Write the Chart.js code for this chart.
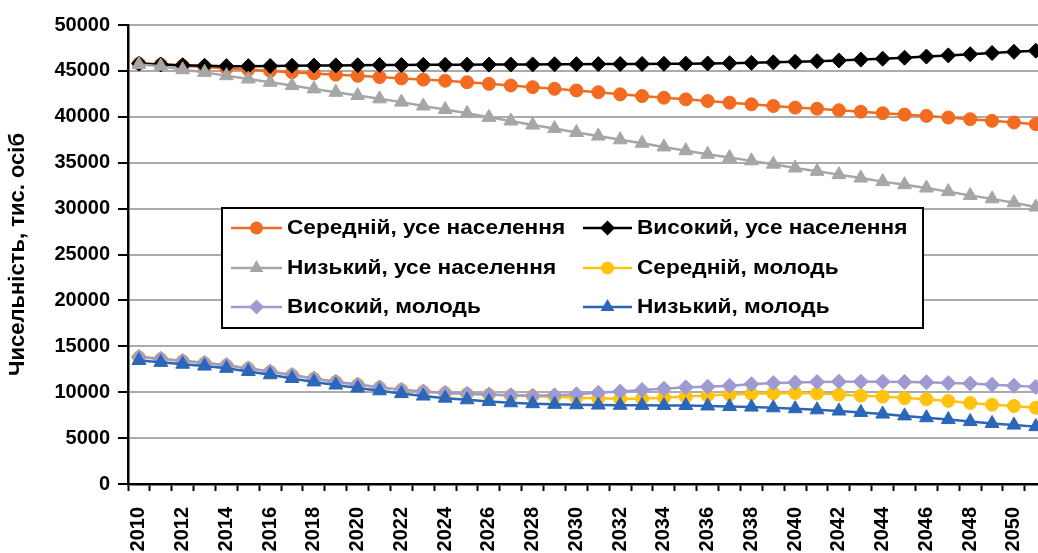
<!DOCTYPE html>
<html>
<head>
<meta charset="utf-8">
<script src="https://cdn.jsdelivr.net/npm/chart.js@4.4.0/dist/chart.umd.min.js"></script>
<style>
  html, body { margin: 0; padding: 0; background: #fff; overflow: hidden; }
  #wrap { position: absolute; left: 0; top: 0; width: 1076px; height: 553px; }
</style>
</head>
<body>
<div id="wrap"><canvas id="popChart" width="1076" height="553"></canvas></div>
<script>
// Years on the x axis
const years = ['2010', '2011', '2012', '2013', '2014', '2015', '2016', '2017', '2018', '2019',
    '2020', '2021', '2022', '2023', '2024', '2025', '2026', '2027', '2028', '2029',
    '2030', '2031', '2032', '2033', '2034', '2035', '2036', '2037', '2038', '2039',
    '2040', '2041', '2042', '2043', '2044', '2045', '2046', '2047', '2048', '2049',
    '2050', '2051'];

// Whole population, thousands
const midAll = [45800, 45700, 45560, 45420, 45280, 45140, 45000, 44860, 44720, 44590,
    44460, 44330, 44180, 44050, 43930, 43760, 43590, 43410, 43230, 43050,
    42870, 42680, 42450, 42260, 42080, 41900, 41720, 41540, 41360, 41180,
    41000, 40880, 40710, 40560, 40390, 40240, 40100, 39920, 39740, 39560,
    39380, 39200];
const highAll = [45800, 45700, 45620, 45560, 45520, 45520, 45540, 45560, 45580, 45600,
    45620, 45640, 45650, 45660, 45670, 45680, 45690, 45700, 45710, 45720,
    45730, 45740, 45750, 45760, 45770, 45790, 45810, 45840, 45880, 45930,
    45990, 46060, 46140, 46230, 46330, 46440, 46560, 46690, 46820, 46950,
    47080, 47200];
const lowAll = [45700, 45520, 45130, 44840, 44480, 44120, 43760, 43400, 43040, 42670,
    42320, 41960, 41600, 41180, 40800, 40380, 39940, 39540, 39100, 38720,
    38290, 37900, 37490, 37120, 36720, 36310, 35920, 35560, 35200, 34840,
    34420, 34060, 33700, 33330, 32940, 32600, 32240, 31850, 31430, 31060,
    30630, 30170];

// Youth, thousands
const midYouth = [13800, 13600, 13380, 13170, 12920, 12580, 12220, 11850, 11480, 11120,
    10800, 10500, 10250, 10050, 9900, 9800, 9710, 9630, 9570, 9500,
    9400, 9330, 9290, 9300, 9400, 9520, 9650, 9750, 9830, 9890,
    9920, 9860, 9740, 9620, 9520, 9360, 9230, 9050, 8830, 8640,
    8500, 8300];
const highYouth = [13850, 13650, 13420, 13200, 12950, 12600, 12250, 11880, 11500, 11150,
    10830, 10530, 10280, 10080, 9930, 9830, 9740, 9670, 9620, 9660,
    9780, 9950, 10080, 10250, 10380, 10530, 10600, 10700, 10870, 11000,
    11050, 11120, 11150, 11150, 11150, 11120, 11080, 11000, 10950, 10820,
    10700, 10580];
const lowYouth = [13450, 13250, 13050, 12850, 12600, 12250, 11900, 11500, 11120, 10780,
    10450, 10150, 9850, 9580, 9350, 9170, 9000, 8850, 8750, 8680,
    8630, 8600, 8580, 8570, 8560, 8550, 8500, 8440, 8380, 8300,
    8200, 8080, 7950, 7800, 7620, 7420, 7220, 7020, 6800, 6600,
    6420, 6250];

const seriesNames = ['Середній, усе населення', 'Високий, усе населення', 'Низький, усе населення',
    'Середній, молодь', 'Високий, молодь', 'Низький, молодь'];

const FONT = '"Liberation Sans", Arial, sans-serif';

function makeSeries(label, data, color, style, radius, order) {
    return {
        label: label,
        data: data,
        borderColor: color,
        backgroundColor: color,
        borderWidth: 2.5,
        pointStyle: style,
        pointRadius: radius,
        pointBorderWidth: 1,
        pointBackgroundColor: color,
        pointBorderColor: color,
        tension: 0,
        order: order
    };
}

// Draw a legend marker like the chart's points
function drawMarker(ctx, style, r, x, y, color) {
    ctx.fillStyle = color;
    ctx.beginPath();
    if (style === 'circle') {
        ctx.arc(x, y, r, 0, Math.PI * 2);
    } else if (style === 'rectRot') {
        ctx.moveTo(x - r, y);
        ctx.lineTo(x, y - r);
        ctx.lineTo(x + r, y);
        ctx.lineTo(x, y + r);
        ctx.closePath();
    } else {
        ctx.moveTo(x, y - r);
        ctx.lineTo(x + r * 0.866, y + r * 0.5);
        ctx.lineTo(x - r * 0.866, y + r * 0.5);
        ctx.closePath();
    }
    ctx.fill();
}

// Boxed legend sitting inside the plot area
const boxLegend = {
    id: 'boxLegend',
    afterDraw(chart) {
        const ctx = chart.ctx;
        const rows = [228, 268, 307];
        const cols = [{ from: 231, to: 282, text: 287 }, { from: 583, to: 632, text: 637 }];
        ctx.save();
        ctx.fillStyle = '#fff';
        ctx.fillRect(222, 208, 701, 120);
        ctx.strokeStyle = '#000';
        ctx.lineWidth = 2;
        ctx.strokeRect(222, 208, 701, 120);

        chart.data.datasets.forEach((ds, i) => {
            const col = cols[i % 2];
            const y = rows[Math.floor(i / 2)];
            ctx.strokeStyle = ds.borderColor;
            ctx.lineWidth = 2.5;
            ctx.beginPath();
            ctx.moveTo(col.from, y);
            ctx.lineTo(col.to, y);
            ctx.stroke();
            drawMarker(ctx, ds.pointStyle, ds.pointRadius, (col.from + col.to) / 2, y, ds.borderColor);

            ctx.save();
            ctx.translate(col.text, y + 1);
            ctx.scale(1.16, 1);
            ctx.fillStyle = '#000';
            ctx.font = 'bold 19.5px ' + FONT;
            ctx.textBaseline = 'middle';
            ctx.fillText(ds.label, 0, 0);
            ctx.restore();
        });
        ctx.restore();
    }
};

const ctx = document.getElementById('popChart');

new Chart(ctx, {
    type: 'line',
    data: {
        labels: years,
        datasets: [
            makeSeries(seriesNames[0], midAll, '#F26B21', 'circle', 6.5, 5),
            makeSeries(seriesNames[1], highAll, '#000000', 'rectRot', 7.5, 4),
            makeSeries(seriesNames[2], lowAll, '#A6A6A6', 'triangle', 8, 3),
            makeSeries(seriesNames[3], midYouth, '#FFC20E', 'circle', 6.5, 2),
            makeSeries(seriesNames[4], highYouth, '#9D9BD0', 'rectRot', 7.5, 1),
            makeSeries(seriesNames[5], lowYouth, '#2B66B8', 'triangle', 8, 0)
        ]
    },
    options: {
        responsive: false,
        animation: false,
        devicePixelRatio: 1,
        layout: { padding: { top: 25, right: 16, bottom: 0, left: 0 } },
        plugins: {
            legend: { display: false },
            tooltip: { enabled: false }
        },
        scales: {
            x: {
                offset: true,
                grid: {
                    offset: true,
                    drawOnChartArea: false,
                    drawTicks: true,
                    tickLength: 7,
                    tickWidth: 2,
                    tickColor: '#000'
                },
                border: { color: '#000', width: 2.5 },
                ticks: {
                    autoSkip: false,
                    maxRotation: 90,
                    minRotation: 90,
                    padding: 16,
                    color: '#000',
                    font: { family: FONT, size: 20, weight: 'bold' },
                    callback: (value, index) => index % 2 === 0 ? years[index] : ''
                },
                afterFit: (scale) => { scale.height = 69; }
            },
            y: {
                min: 0,
                max: 50000,
                ticks: {
                    stepSize: 5000,
                    padding: 8,
                    color: '#000',
                    font: { family: FONT, size: 20, weight: 'bold' },
                    callback: (value) => String(value)
                },
                grid: {
                    color: (c) => (c.tick && c.tick.value === 0) ? 'rgba(0,0,0,0)' : '#ababab',
                    lineWidth: 2,
                    borderDash: [3, 6],
                    tickLength: 10,
                    tickWidth: 2,
                    tickColor: '#000',
                    tickBorderDash: []
                },
                border: { color: '#000', width: 2.5 },
                title: {
                    display: true,
                    text: 'Чисельність, тис. осіб',
                    color: '#000',
                    font: { family: FONT, size: 22, weight: 'bold' },
                    padding: { top: 5, bottom: 0 }
                },
                afterFit: (scale) => { scale.width = 128; }
            }
        }
    },
    plugins: [boxLegend]
});
</script>
</body>
</html>
